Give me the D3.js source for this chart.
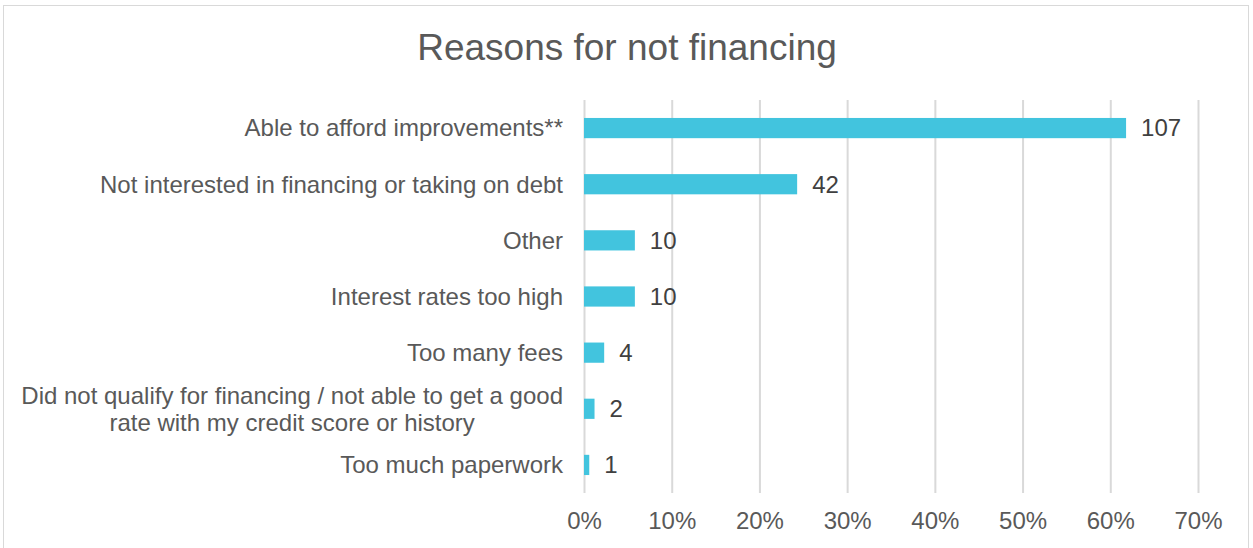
<!DOCTYPE html>
<html lang="en">
<head>
<meta charset="UTF-8">
<title>Reasons for not financing</title>
<script src="https://d3js.org/d3.v7.min.js"></script>
<style>
  body { margin: 0; background: #fff; }
  text { font-family: "Liberation Sans", Arial, sans-serif; }
</style>
</head>
<body>
<svg id="chart" width="1253" height="548"></svg>
<script>
// data
var reasons = [
  ["Able to afford improvements**"],
  ["Not interested in financing or taking on debt"],
  ["Other"],
  ["Interest rates too high"],
  ["Too many fees"],
  ["Did not qualify for financing / not able to get a good", "rate with my credit score or history"],
  ["Too much paperwork"]
];
var shares = [61.8, 24.3, 5.8, 5.8, 2.3, 1.2, 0.6];   // percent of respondents
var counts = [107, 42, 10, 10, 4, 2, 1];
var xTicks = [0, 10, 20, 30, 40, 50, 60, 70];

var svg = d3.select("#chart"),
    width = +svg.attr("width"),
    height = +svg.attr("height");

var margin = { top: 100, right: 55, bottom: 55, left: 584 };

// outer chart border
svg.append("rect")
    .attr("x", 3.5).attr("y", 5.5)
    .attr("width", 1245).attr("height", 560)
    .attr("fill", "none")
    .attr("stroke", "#d9d9d9");

svg.append("text")
    .attr("x", 627).attr("y", 60)
    .attr("text-anchor", "middle")
    .attr("font-size", "37px")
    .attr("fill", "#595959")
    .text("Reasons for not financing");

var x = d3.scaleLinear().domain([0, 70]).range([margin.left, 1198]);
var y = d3.scaleBand()
    .domain(d3.range(reasons.length))
    .range([margin.top, 493])
    .paddingInner(0.64).paddingOuter(0.32);

// grid lines
svg.append("g")
    .selectAll("line")
    .data(xTicks)
    .enter()
    .append("line")
    .attr("x1", d => x(d) + 0.5).attr("x2", d => x(d) + 0.5)
    .attr("y1", margin.top).attr("y2", 493)
    .attr("stroke", "#d9d9d9")
    .attr("stroke-width", 2);

// x axis labels
var xAxis = svg.append("g")
    .attr("transform", "translate(0,493)")
    .call(d3.axisBottom(x).tickValues(xTicks).tickFormat(d => d + "%").tickSize(0).tickPadding(19));
xAxis.select(".domain").remove();
xAxis.selectAll("text")
    .attr("font-size", "24px")
    .attr("font-family", "Liberation Sans, Arial, sans-serif")
    .attr("fill", "#595959");

// bars
svg.append("g")
    .selectAll("rect")
    .data(shares)
    .enter()
    .append("rect")
    .attr("x", x(0))
    .attr("y", (d, i) => y(i))
    .attr("width", d => x(d) - x(0))
    .attr("height", y.bandwidth())
    .attr("fill", "#42c4de");

// value labels
svg.append("g")
    .selectAll("text")
    .data(counts)
    .enter()
    .append("text")
    .attr("x", (d, i) => x(shares[i]) + 15)
    .attr("y", (d, i) => y(i) + y.bandwidth() / 2)
    .attr("dy", "0.35em")
    .attr("font-size", "24px")
    .attr("fill", "#404040")
    .text(d => d);

// category labels, multi-line ones centred within a right-aligned block
var labelRight = 563;
var cats = svg.append("g");
reasons.forEach(function (lines, i) {
    var cy = y(i) + y.bandwidth() / 2;
    var g = cats.append("text")
        .attr("font-size", "24px")
        .attr("fill", "#595959");
    var lineH = 27;
    var tspans = g.selectAll("tspan")
        .data(lines)
        .enter()
        .append("tspan")
        .attr("y", (d, k) => cy + (k - (lines.length - 1) / 2) * lineH)
        .attr("dy", "0.35em")
        .text(d => d);
    var widest = d3.max(tspans.nodes(), n => n.getComputedTextLength());
    tspans.attr("x", labelRight - widest / 2).attr("text-anchor", "middle");
});
</script>
</body>
</html>
